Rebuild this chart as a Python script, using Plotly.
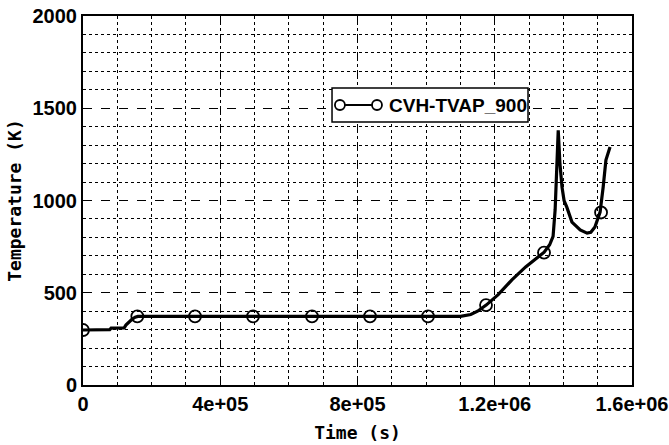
import plotly.graph_objects as go

# Curve data (time in s, temperature in K)
time_s = [0, 0.78e5, 0.82e5, 1.2e5, 1.25e5, 1.32e5, 1.42e5, 1.52e5, 1.6e5,
          1.1e6, 1.13e6, 1.15e6, 1.175e6, 1.21e6, 1.25e6, 1.29e6, 1.32e6, 1.344e6,
          1.36e6, 1.37e6, 1.376e6, 1.38e6, 1.385e6, 1.39e6, 1.396e6, 1.402e6,
          1.41e6, 1.425e6, 1.449e6, 1.469e6, 1.48e6, 1.492e6, 1.507e6, 1.516e6,
          1.524e6, 1.536e6]
temp_k = [298, 300, 308, 310, 325, 340, 355, 368, 372,
          372, 382, 400, 433, 490, 570, 640, 685, 720,
          760, 805, 950, 1150, 1380, 1200, 1073, 1000,
          964, 883, 840, 823, 828, 856, 937, 1073,
          1219, 1290]

# Marker positions
mark_t = [0, 1.583e5, 3.264e5, 4.955e5, 6.674e5, 8.365e5, 1.0055e6, 1.1746e6, 1.3436e6, 1.5098e6]
mark_T = [298, 372, 372, 372, 372, 372, 372, 433, 718, 935]

x_tickvals = [0, 4e5, 8e5, 1.2e6, 1.6e6]
x_ticktext = ["0", "4e+05", "8e+05", "1.2e+06", "1.6e+06"]
series_name = "CVH-TVAP_900"

fig = go.Figure()
fig.add_trace(go.Scatter(x=time_s, y=temp_k, mode="lines",
                         line=dict(color="black", width=3.2), showlegend=False))
fig.add_trace(go.Scatter(x=mark_t, y=mark_T, mode="markers",
                         marker=dict(symbol="circle-open", size=12, color="black",
                                     line=dict(width=1.8, color="black")),
                         showlegend=False))

tick_font = dict(family="Liberation Sans, Arial, sans-serif", size=20, color="black", weight="bold")
title_font = dict(family="DejaVu Sans Mono, monospace", size=18, color="black", weight="bold")

fig.update_layout(
    width=669, height=445,
    margin=dict(l=83, r=37, t=16, b=60),
    plot_bgcolor="white", paper_bgcolor="white",
    xaxis=dict(range=[0, 1.6e6], tickvals=x_tickvals, ticktext=x_ticktext,
               showgrid=True, gridcolor="black", gridwidth=1, griddash="dash",
               minor=dict(dtick=1e5, showgrid=True, gridcolor="black", gridwidth=1, griddash="dot"),
               showline=True, linecolor="black", linewidth=2, mirror=True,
               ticks="", tickfont=tick_font, zeroline=False, automargin=False,
               title=dict(text="Time (s)", font=title_font, standoff=12)),
    yaxis=dict(range=[0, 2000], dtick=500, tick0=0,
               showgrid=True, gridcolor="black", gridwidth=1, griddash="dash",
               minor=dict(dtick=100, showgrid=True, gridcolor="black", gridwidth=1, griddash="dot"),
               showline=True, linecolor="black", linewidth=2, mirror=True,
               ticks="", tickfont=tick_font, zeroline=False, automargin=False,
               title=dict(text="Temperature (K)", font=title_font, standoff=6)),
)

# Custom legend box
lx0, lx1, ly0, ly1 = 0.4536, 0.8106, 0.7127, 0.805
sym_y = 0.7588
c1, c2 = 0.468, 0.5355
fig.add_shape(type="rect", xref="paper", yref="paper", x0=lx0, x1=lx1, y0=ly0, y1=ly1,
              fillcolor="white", line=dict(color="black", width=1.5), layer="above")
fig.add_shape(type="line", xref="paper", yref="paper", x0=c1, x1=c2, y0=sym_y, y1=sym_y,
              line=dict(color="black", width=2), layer="above")
for cx in (c1, c2):
    fig.add_shape(type="circle", xref="paper", yref="paper",
                  xsizemode="pixel", ysizemode="pixel", xanchor=cx, yanchor=sym_y,
                  x0=-5, x1=5, y0=-5, y1=5,
                  fillcolor="white", line=dict(color="black", width=1.8), layer="above")
fig.add_annotation(xref="paper", yref="paper", x=0.5537, y=sym_y, xanchor="left", yanchor="middle",
                   text="<b>" + series_name + "</b>", showarrow=False,
                   font=dict(family="Liberation Sans, Arial, sans-serif", size=19, color="black"))

fig.write_html("out.html")
